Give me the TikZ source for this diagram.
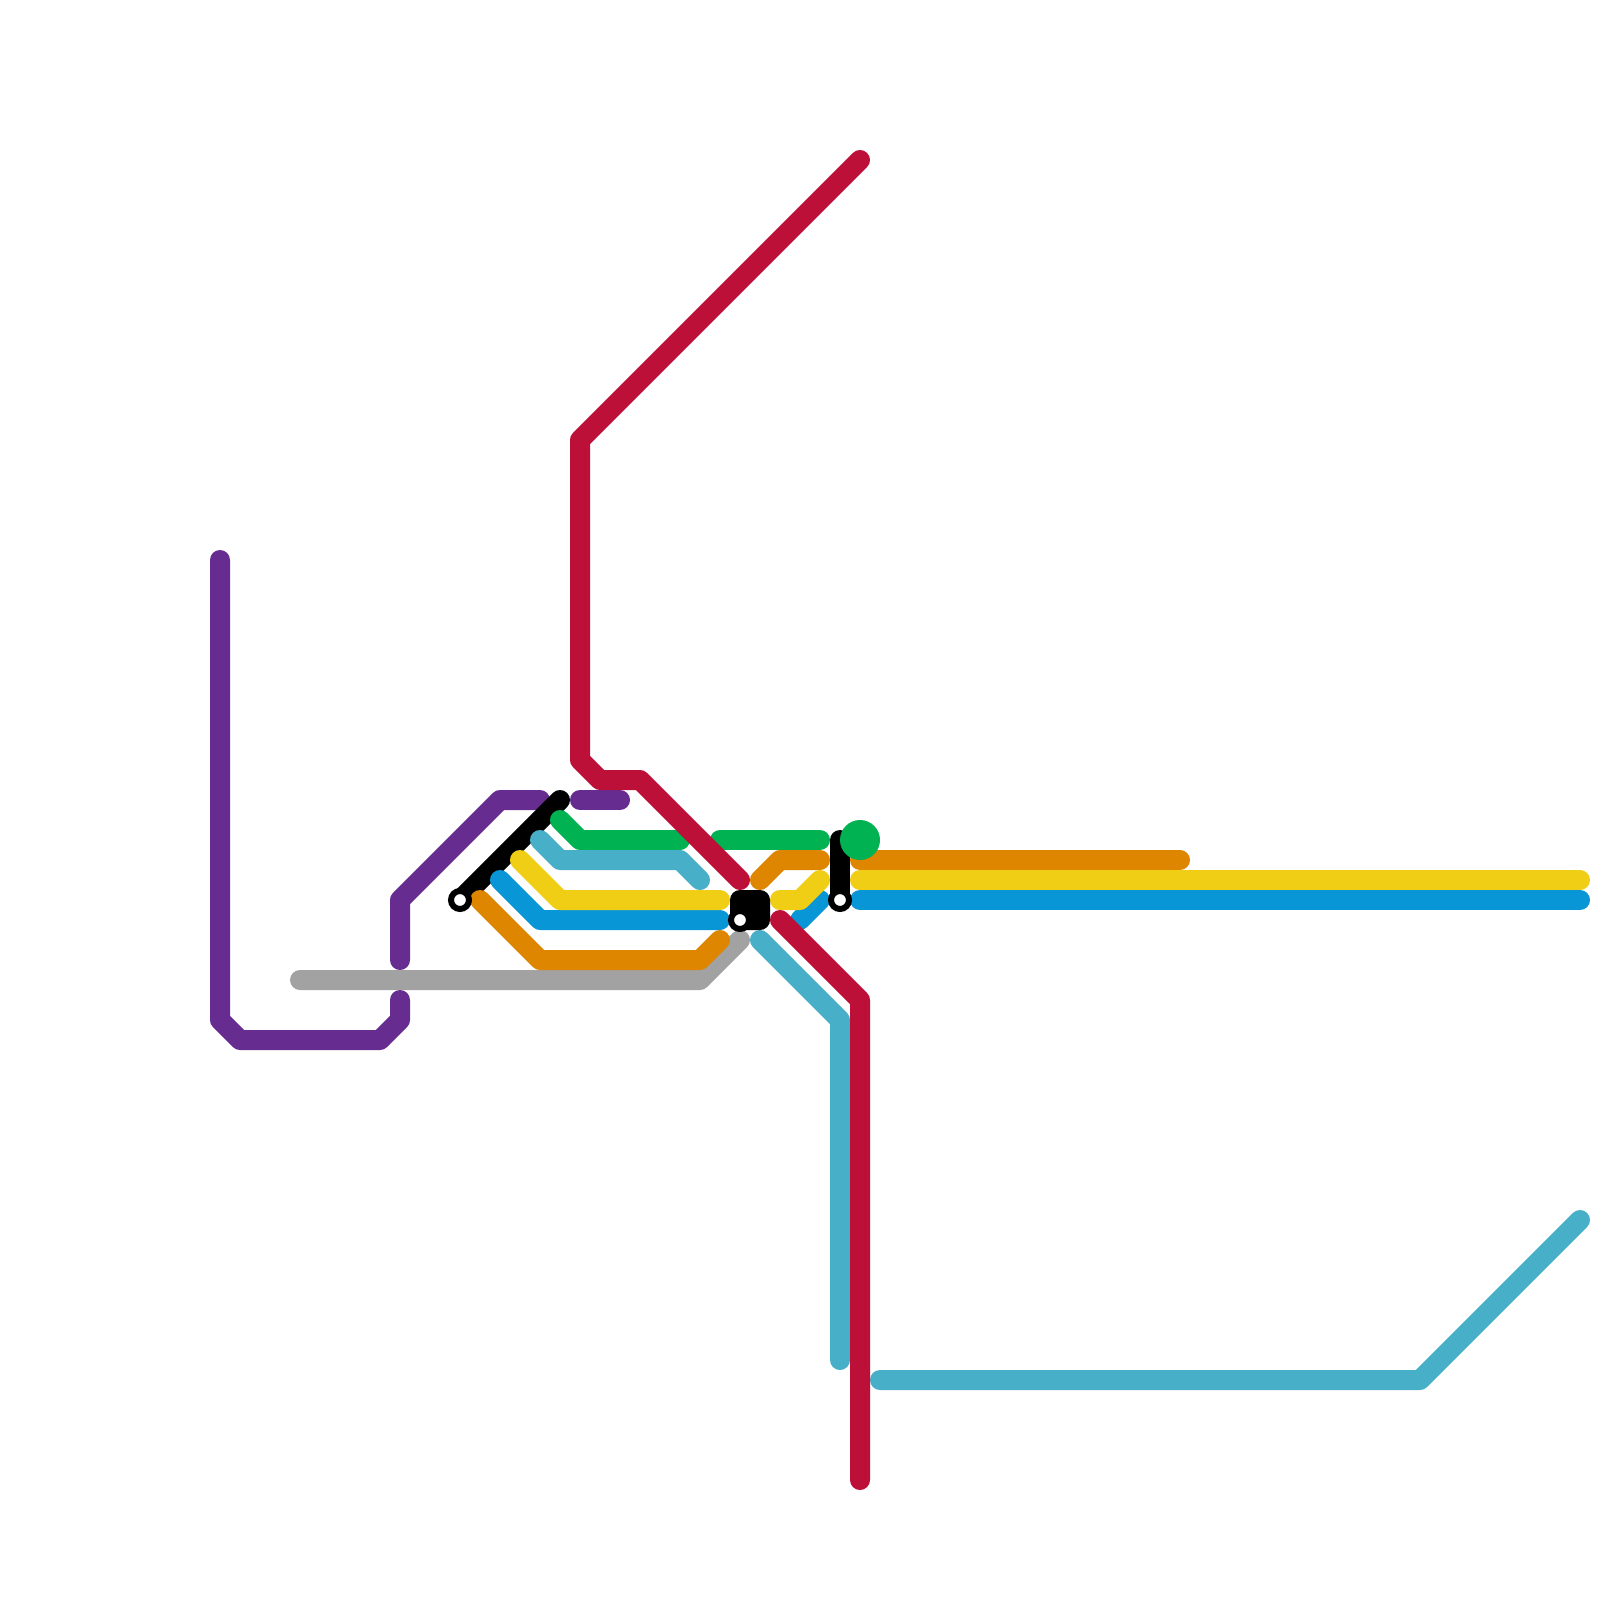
\documentclass[tikz,border=0pt]{standalone}
\definecolor{lred}{HTML}{BD1038}
\definecolor{lpurple}{HTML}{662C90}
\definecolor{lgreen}{HTML}{00B251}
\definecolor{lteal}{HTML}{48AFC9}
\definecolor{lyellow}{HTML}{F0CE15}
\definecolor{lblue}{HTML}{0896D7}
\definecolor{lorange}{HTML}{DF8600}
\definecolor{lgray}{HTML}{A2A2A2}
\tikzset{x=0.05cm,y=-0.05cm,
 metro/.style={line width=20*0.05cm,line cap=round,line join=round},
 stopring/.style={circle,fill=white,draw=black,line width=6*0.05cm,minimum size=18*0.05cm,inner sep=0pt}}
\begin{document}
\begin{tikzpicture}
\useasboundingbox (0,0) rectangle (1600,1600);
\fill[white] (0,0) rectangle (1600,1600);
\draw[metro,lgray] (300,980) -- (700,980) -- (740,940);
\draw[metro,lpurple] (220,560) -- (220,1020) -- (240,1040) -- (380,1040) -- (400,1020) -- (400,1000);
\draw[metro,lpurple] (400,960) -- (400,900) -- (500,800) -- (540,800);
\draw[metro,lpurple] (580,800) -- (620,800);
\draw[metro,black] (560,800) -- (460,900);
\draw[metro,black] (840,840) -- (840,900);
\draw[metro,lgreen] (560,820) -- (580,840) -- (680,840);
\draw[metro,lgreen] (720,840) -- (820,840);
\draw[metro,lteal] (540,840) -- (560,860) -- (680,860) -- (700,880);
\draw[metro,lteal] (760,940) -- (840,1020) -- (840,1360);
\draw[metro,lteal] (880,1380) -- (1420,1380) -- (1580,1220);
\draw[metro,lorange] (480,900) -- (540,960) -- (700,960) -- (720,940);
\draw[metro,lorange] (760,880) -- (780,860) -- (820,860);
\draw[metro,lorange] (860,860) -- (1180,860);
\draw[metro,lblue] (500,880) -- (540,920) -- (720,920);
\draw[metro,lblue] (800,920) -- (820,900);
\draw[metro,lblue] (860,900) -- (1580,900);
\draw[metro,lyellow] (520,860) -- (560,900) -- (720,900);
\draw[metro,lyellow] (780,900) -- (800,900) -- (820,880);
\draw[metro,lyellow] (860,880) -- (1580,880);
\draw[metro,lred] (860,160) -- (580,440) -- (580,760) -- (600,780) -- (640,780) -- (740,880);
\draw[metro,lred] (780,920) -- (860,1000) -- (860,1480);
\fill[black,rounded corners=10*0.05cm] (730,890) rectangle (770,930);
\node[stopring] (s1) at (460,900) {};
\node[stopring] (s2) at (740,920) {};
\node[stopring] (s3) at (840,900) {};
\node[circle,fill=lgreen,minimum size=40*0.05cm,inner sep=0pt] (s4) at (860,840) {};
\end{tikzpicture}
\end{document}
